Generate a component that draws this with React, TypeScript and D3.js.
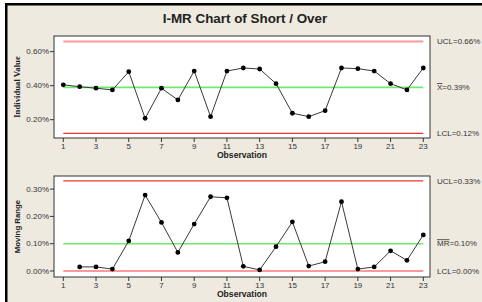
import React from "react";
import * as d3 from "d3";

const observations = d3.range(1, 24);
const individualValues = [
  0.405, 0.394, 0.385, 0.375, 0.482, 0.208, 0.385, 0.316, 0.486, 0.218, 0.486, 0.504,
  0.498, 0.412, 0.238, 0.218, 0.253, 0.504, 0.5, 0.486, 0.412, 0.375, 0.504,
];
const movingRangeObs = d3.range(2, 24);
const movingRanges = [
  0.015, 0.015, 0.007, 0.11, 0.278, 0.178, 0.068, 0.172, 0.272, 0.268, 0.017, 0.004,
  0.089, 0.18, 0.018, 0.034, 0.254, 0.007, 0.015, 0.074, 0.039, 0.132,
];
const iLimits = { ucl: 0.66, center: 0.39, lcl: 0.12 };
const mrLimits = { ucl: 0.33, center: 0.1, lcl: 0.0 };
const iTicks = [0.2, 0.4, 0.6];
const mrTicks = [0.0, 0.1, 0.2, 0.3];
const xTicks = [1, 3, 5, 7, 9, 11, 13, 15, 17, 19, 21, 23];

const BOX_L = 54;
const BOX_R = 430;
const SANS = "'Liberation Sans', Arial, sans-serif";
const SERIF = "'Liberation Serif', 'Times New Roman', serif";

type PanelProps = {
  top: number;
  bottom: number;
  domain: [number, number];
  ticks: number[];
  xs: number[];
  ys: number[];
  limits: { ucl: number; center: number; lcl: number };
  uclColor: string;
  uclWidth: number;
  lclColor: string;
  lclWidth: number;
  yTitle: string;
  yTitleFont: string;
  yTitleSize: number;
  centerPrefix: string;
};

function Panel(p: PanelProps) {
  const x = d3.scaleLinear().domain([1, 23]).range([63.3, 423.3]);
  const y = d3.scaleLinear().domain(p.domain).range([p.bottom, p.top]);
  const line = d3
    .line<number>()
    .x((_, i) => x(p.xs[i]))
    .y((d) => y(d));
  const fmt = (v: number) => v.toFixed(2) + "%";
  const midY = (p.top + p.bottom) / 2;
  const lineX1 = x(1);
  const lineX2 = x(23);
  return (
    <g>
      <rect x={BOX_L} y={p.top} width={BOX_R - BOX_L} height={p.bottom - p.top} fill="#fff" stroke="#333" strokeWidth={1} />
      <line x1={lineX1} x2={lineX2} y1={y(p.limits.ucl)} y2={y(p.limits.ucl)} stroke={p.uclColor} strokeWidth={p.uclWidth} />
      <line x1={lineX1} x2={lineX2} y1={y(p.limits.lcl)} y2={y(p.limits.lcl)} stroke={p.lclColor} strokeWidth={p.lclWidth} />
      <line x1={lineX1} x2={lineX2} y1={y(p.limits.center)} y2={y(p.limits.center)} stroke="#6ee86e" strokeWidth={1.6} />
      <path d={line(p.ys) || ""} fill="none" stroke="#3a3a3a" strokeWidth={1} />
      {p.ys.map((v, i) => (
        <circle key={i} cx={x(p.xs[i])} cy={y(v)} r={2.4} fill="#000" />
      ))}
      {p.ticks.map((t) => (
        <g key={t}>
          <line x1={BOX_L - 4} x2={BOX_L} y1={y(t)} y2={y(t)} stroke="#333" />
          <text x={BOX_L - 5} y={y(t)} dy="0.33em" textAnchor="end" fontFamily={SANS} fontSize={8} fill="#333">
            {fmt(t)}
          </text>
        </g>
      ))}
      {xTicks.map((t) => (
        <g key={t}>
          <line x1={x(t)} x2={x(t)} y1={p.bottom} y2={p.bottom + 4} stroke="#333" />
          <text x={x(t)} y={p.bottom + 11} textAnchor="middle" fontFamily={SANS} fontSize={8} fill="#333">
            {t}
          </text>
        </g>
      ))}
      <text x={(BOX_L + BOX_R) / 2} y={p.bottom + 20} textAnchor="middle" fontFamily={SANS} fontWeight="bold" fontSize={8.6} fill="#222">
        Observation
      </text>
      <text
        transform={`translate(20,${midY}) rotate(-90)`}
        textAnchor="middle"
        fontFamily={p.yTitleFont}
        fontWeight="bold"
        fontSize={p.yTitleSize}
        fill="#222"
      >
        {p.yTitle}
      </text>
      <text x={437} y={y(p.limits.ucl)} dy="0.33em" fontFamily={SANS} fontSize={8} fill="#333">
        {"UCL=" + fmt(p.limits.ucl)}
      </text>
      <text x={437} y={y(p.limits.center)} dy="0.33em" fontFamily={SANS} fontSize={8} fill="#333">
        <tspan style={{ textDecoration: "overline" }}>{p.centerPrefix}</tspan>
        {"=" + fmt(p.limits.center)}
      </text>
      <text x={437} y={y(p.limits.lcl)} dy="0.33em" fontFamily={SANS} fontSize={8} fill="#333">
        {"LCL=" + fmt(p.limits.lcl)}
      </text>
    </g>
  );
}

export default function App() {
  return (
    <svg width={482} height={302} style={{ position: "absolute", left: 0, top: 0 }}>
      <rect x={0} y={0} width={482} height={302} fill="#fff" />
      <rect x={5} y={3} width={477} height={299} fill="#eeeae0" />
      <rect x={5} y={3} width={477} height={2.5} fill="#000" />
      <rect x={5} y={3} width={2.5} height={299} fill="#000" />
      <text x={245} y={23} textAnchor="middle" fontFamily={SANS} fontWeight="bold" fontSize={13.4} fill="#222">
        I-MR Chart of Short / Over
      </text>
      <Panel
        top={36}
        bottom={138}
        domain={[0.0924, 0.692]}
        ticks={iTicks}
        xs={observations}
        ys={individualValues}
        limits={iLimits}
        uclColor="#ff9a9a"
        uclWidth={2}
        lclColor="#ee3333"
        lclWidth={1.2}
        yTitle="Individual Value"
        yTitleFont={SERIF}
        yTitleSize={8.7}
        centerPrefix="X"
      />
      <Panel
        top={176}
        bottom={277}
        domain={[-0.022, 0.348]}
        ticks={mrTicks}
        xs={movingRangeObs}
        ys={movingRanges}
        limits={mrLimits}
        uclColor="#ee3333"
        uclWidth={1.2}
        lclColor="#ff9a9a"
        lclWidth={2}
        yTitle="Moving Range"
        yTitleFont={SANS}
        yTitleSize={7.8}
        centerPrefix="MR"
      />
    </svg>
  );
}
